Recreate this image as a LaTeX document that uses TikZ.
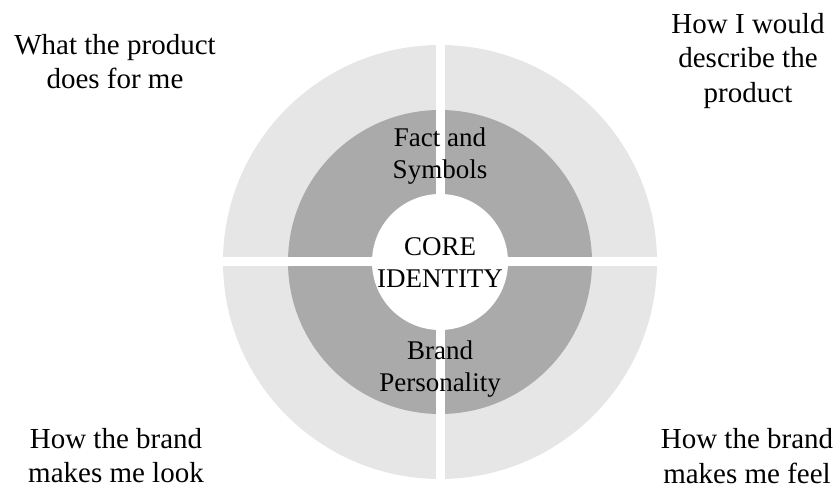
\documentclass[tikz,border=0pt]{standalone}
\usepackage{fontspec}
\setmainfont{Liberation Serif}
\definecolor{ringlight}{RGB}{230,230,230}
\definecolor{ringdark}{RGB}{170,170,170}
\begin{document}
\begin{tikzpicture}[x=1pt,y=1pt,
  disc/.style={circle, inner sep=0pt, draw=none},
  gap/.style={draw=white, line width=9pt},
  midlabel/.style={align=center, inner sep=0pt, font=\fontsize{27}{32}\selectfont},
  cornerlabel/.style={align=center, inner sep=0pt, font=\fontsize{29}{34.5}\selectfont}]
\useasboundingbox (0,0) rectangle (837,490);
\coordinate (c) at (440,228);
% three concentric discs
\node[disc, fill=ringlight, minimum size=434pt] (outer) at (c) {};
\node[disc, fill=ringdark, minimum size=304pt] (inner) at (c) {};
\node[disc, fill=white, minimum size=136pt] (core) at (c) {};
% white cross splitting the rings into quadrants
\draw[gap] (outer.north) -- (outer.south);
\draw[gap] (outer.west) -- (outer.east);
% ring labels
\node[midlabel] (facts) at (440,334) {Fact and\\Symbols};
\node[midlabel] (identity) at (440,227.5) {CORE\\IDENTITY};
\node[midlabel] (personality) at (440,121) {Brand\\Personality};
% quadrant captions
\node[cornerlabel] (does) at (115,428.5) {What the product\\does for me};
\node[cornerlabel] (describe) at (748,429) {How I would\\describe the\\product};
\node[cornerlabel] (look) at (116,34.5) {How the brand\\makes me look};
\node[cornerlabel] (feel) at (747,34) {How the brand\\makes me feel};
\end{tikzpicture}
\end{document}
